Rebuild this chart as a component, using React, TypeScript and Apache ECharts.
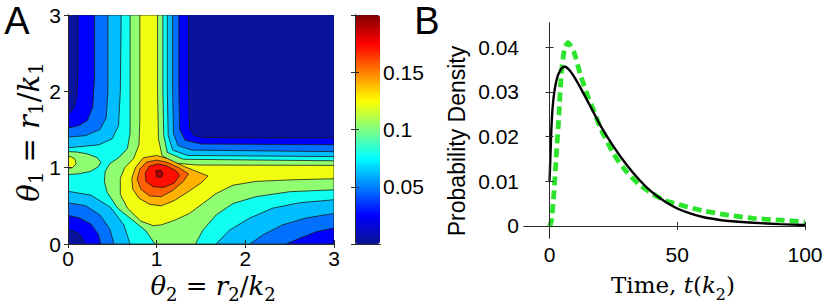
import React, { useEffect, useRef } from 'react';
import * as echarts from 'echarts';

// ---------- Panel A: tick labels ----------
const thetaTicks = [0, 1, 2, 3];
const colorbarTicks = [0.05, 0.1, 0.15];

// contour level values (estimated from the band colours against the colour bar)
const contourLevels = [0.003, 0.025, 0.047, 0.062, 0.078, 0.103, 0.122, 0.14, 0.156, 0.172, 0.192];

// superlevel-set outlines, [theta2, theta1]
const regionNavy = [[[0, 0], [3, 0], [3, 3], [0, 3]]];
const regionBlue = [[
  [0, 0.187], [0, 1.71], [0.03, 1.73], [0.07, 1.8], [0.1, 1.95], [0.11, 2.2], [0.11, 3],
  [1.36, 3], [1.36, 2.0], [1.37, 1.52], [1.42, 1.42], [1.55, 1.395], [2.0, 1.39], [3, 1.39],
  [3, 0], [0.19, 0], [0.13, 0.13], [0.06, 0.17]
]];
const regionMidBlue = [[
  [0, 0.376], [0, 1.52], [0.12, 1.55], [0.22, 1.62], [0.28, 1.8], [0.3, 2.2], [0.3, 3],
  [1.25, 3], [1.25, 2.0], [1.26, 1.5], [1.32, 1.36], [1.5, 1.31], [3, 1.3],
  [3, 0.21], [2.8, 0.16], [2.61, 0.075], [2.46, 0], [0.37, 0], [0.34, 0.13], [0.26, 0.26], [0.13, 0.34]
]];
const regionSky = [[
  [0, 0.54], [0, 1.4], [0.2, 1.42], [0.36, 1.5], [0.43, 1.65], [0.45, 2.0], [0.45, 3],
  [1.18, 3], [1.18, 2.0], [1.19, 1.45], [1.24, 1.29], [1.4, 1.23], [3, 1.21],
  [3, 0.4], [2.68, 0.34], [2.42, 0.25], [2.2, 0.12], [2.05, 0], [0.52, 0], [0.47, 0.2], [0.36, 0.38], [0.2, 0.5]
]];
const regionCyan = [[
  [0, 0.69], [0, 1.26], [0.35, 1.3], [0.5, 1.38], [0.57, 1.55], [0.59, 2.0], [0.6, 3],
  [1.12, 3], [1.12, 2.0], [1.13, 1.42], [1.18, 1.23], [1.35, 1.16], [3, 1.145],
  [3, 0.58], [2.61, 0.54], [2.31, 0.47], [2.05, 0.34], [1.82, 0.18], [1.67, 0],
  [0.7, 0], [0.63, 0.25], [0.48, 0.48], [0.26, 0.64]
]];
const regionLightGreen = [
  [
    [0.7, 3], [1.07, 3], [1.07, 2.0], [1.08, 1.42], [1.12, 1.2], [1.3, 1.11], [3, 1.09],
    [3, 0.71], [2.5, 0.685], [2.12, 0.62], [1.86, 0.53], [1.67, 0.38], [1.52, 0.18], [1.45, 0.03], [1.44, 0],
    [0.98, 0], [0.88, 0.17], [0.72, 0.32], [0.56, 0.47], [0.44, 0.68], [0.41, 0.82], [0.42, 0.95],
    [0.47, 1.05], [0.58, 1.14], [0.67, 1.25], [0.7, 1.45], [0.7, 2.0]
  ],
  [
    [0, 0.91], [0.12, 0.92], [0.25, 0.95], [0.34, 1.01], [0.37, 1.07], [0.33, 1.13], [0.22, 1.18], [0.1, 1.205], [0, 1.21]
  ]
];
const regionYellow = [
  [
    [0.81, 3], [1.01, 3], [1.01, 2.0], [1.02, 1.38], [1.06, 1.16], [1.2, 1.06], [1.45, 1.035], [3, 1.03],
    [3, 0.855], [2.5, 0.84], [2.12, 0.82], [1.86, 0.77], [1.67, 0.66], [1.52, 0.53], [1.37, 0.4],
    [1.2, 0.31], [1.05, 0.25], [0.96, 0.24], [0.82, 0.3], [0.67, 0.47], [0.59, 0.65], [0.59, 0.86],
    [0.64, 1.0], [0.74, 1.12], [0.8, 1.3], [0.81, 1.6], [0.81, 2.2]
  ],
  [
    [0, 0.99], [0.05, 1.0], [0.09, 1.05], [0.08, 1.11], [0.04, 1.14], [0, 1.15]
  ]
];
const regionOrange = [[
  [0.85, 1.13], [1.0, 1.16], [1.12, 1.12], [1.3, 1.02], [1.45, 0.95], [1.58, 0.89], [1.5, 0.8],
  [1.35, 0.68], [1.2, 0.57], [1.05, 0.5], [0.92, 0.52], [0.8, 0.6], [0.73, 0.72], [0.72, 0.86], [0.76, 1.0]
]];
const regionOrangeRed = [[
  [0.88, 1.07], [1.0, 1.1], [1.12, 1.07], [1.25, 1.0], [1.36, 0.92], [1.3, 0.82], [1.18, 0.7],
  [1.05, 0.62], [0.92, 0.63], [0.82, 0.72], [0.78, 0.85], [0.81, 0.98]
]];
const regionRed = [[
  [0.92, 1.02], [1.02, 1.05], [1.12, 1.02], [1.22, 0.96], [1.26, 0.9], [1.2, 0.8], [1.08, 0.74],
  [0.96, 0.75], [0.88, 0.82], [0.87, 0.93]
]];
const regionDarkRed = [[
  [0.99, 0.96], [1.05, 0.97], [1.07, 0.92], [1.05, 0.87], [1.0, 0.88]
]];

const contourRegions = [
  regionNavy, regionBlue, regionMidBlue, regionSky, regionCyan, regionLightGreen,
  regionYellow, regionOrange, regionOrangeRed, regionRed, regionDarkRed
];

const jetStops = ['#0b1690', '#0000ff', '#0080ff', '#00ffff', '#80ff80', '#ffff00', '#ff8000', '#ff0000', '#800000'];

// ---------- Panel B ----------
const timeTicks = [0, 50, 100];
const densityTicks = [0, 0.01, 0.02, 0.03, 0.04];

const solidTime = [0, 0.4, 0.7, 1.2, 2, 3, 4, 5, 6, 8, 10, 12.5, 15, 17.5, 20, 25, 30, 35, 40, 45, 50, 55, 60, 65, 70, 80, 90, 100];
const solidDensity = [0.0101, 0.0165, 0.0215, 0.0265, 0.0305, 0.0332, 0.0346, 0.0354, 0.0356, 0.0347, 0.033, 0.0305, 0.0278, 0.0251, 0.0224, 0.0178, 0.0138, 0.0104, 0.0076, 0.0055, 0.0039, 0.0028, 0.002, 0.0015, 0.0011, 0.0007, 0.0004, 0.0002];

const dashedTime = [0, 0.8, 1.7, 2.7, 3.7, 4.6, 5.9, 7.2, 9.5, 12, 15, 17.5, 20, 25, 30, 35, 40, 45, 50, 55, 60, 70, 80, 90, 100];
const dashedDensity = [-0.0002, 0.0013, 0.0073, 0.0162, 0.025, 0.034, 0.0398, 0.041, 0.039, 0.034, 0.029, 0.0255, 0.0218, 0.0162, 0.0122, 0.0093, 0.0073, 0.0057, 0.0049, 0.0041, 0.0034, 0.0024, 0.0017, 0.0013, 0.0009];

const SANS = 'Liberation Sans';
const SERIF = 'DejaVu Serif';
const AX = '#2b2b2b';

function buildOption(): any {
  const contourData: any[] = [];
  contourRegions.forEach((polys, li) => {
    polys.forEach((_p, pi) => contourData.push({ value: [contourLevels[li], li, pi] }));
  });

  const tickStyle = { show: true, inside: true, length: 4, lineStyle: { color: AX } };
  const lineStyle = { show: true, lineStyle: { color: AX, width: 1 } };
  const lbl = { color: '#000', fontSize: 21, fontFamily: SANS };

  const math = (fs: number, sub: number) => ({
    i: { fontFamily: SERIF, fontStyle: 'italic', fontSize: fs, lineHeight: 34, color: '#000' },
    r: { fontFamily: SERIF, fontSize: fs, lineHeight: 34, color: '#000' },
    s: { fontFamily: SERIF, fontSize: sub, lineHeight: 16, verticalAlign: 'bottom', color: '#000' }
  });

  return {
    animation: false,
    backgroundColor: '#fff',
    grid: [
      { left: 68, top: 15, width: 266, height: 229 },
      { left: 355, top: 15, width: 25, height: 229 },
      { left: 524, top: 23, width: 281, height: 215 }
    ],
    xAxis: [
      { gridIndex: 0, type: 'value', min: 0, max: 3, interval: 1, position: 'bottom', z: 5,
        axisLine: lineStyle, axisTick: tickStyle, splitLine: { show: false },
        axisLabel: { ...lbl, margin: 4 } },
      { gridIndex: 0, type: 'value', min: 0, max: 3, interval: 1, position: 'top', z: 5,
        axisLine: lineStyle, axisTick: tickStyle, splitLine: { show: false }, axisLabel: { show: false } },
      { gridIndex: 1, type: 'value', min: 0, max: 1, position: 'bottom', z: 5,
        axisLine: lineStyle, axisTick: { show: false }, splitLine: { show: false }, axisLabel: { show: false } },
      { gridIndex: 1, type: 'value', min: 0, max: 1, position: 'top', z: 5,
        axisLine: lineStyle, axisTick: { show: false }, splitLine: { show: false }, axisLabel: { show: false } },
      { gridIndex: 2, type: 'value', min: -10, max: 100, position: 'bottom', z: 5,
        axisLine: lineStyle, axisTick: { ...tickStyle, customValues: timeTicks }, splitLine: { show: false },
        axisLabel: { ...lbl, margin: 6, customValues: timeTicks } },
      { gridIndex: 2, type: 'value', min: -10, max: 100, position: 'top', z: 5,
        axisLine: lineStyle, axisTick: { ...tickStyle, customValues: timeTicks }, splitLine: { show: false },
        axisLabel: { show: false } }
    ],
    yAxis: [
      { gridIndex: 0, type: 'value', min: 0, max: 3, interval: 1, position: 'left', z: 5,
        axisLine: lineStyle, axisTick: tickStyle, splitLine: { show: false },
        axisLabel: { ...lbl, margin: 7 } },
      { gridIndex: 0, type: 'value', min: 0, max: 3, interval: 1, position: 'right', z: 5,
        axisLine: lineStyle, axisTick: tickStyle, splitLine: { show: false }, axisLabel: { show: false } },
      { gridIndex: 1, type: 'value', min: 0, max: 0.2, interval: 0.05, position: 'left', z: 5,
        axisLine: lineStyle, axisTick: tickStyle, splitLine: { show: false }, axisLabel: { show: false } },
      { gridIndex: 1, type: 'value', min: 0, max: 0.2, interval: 0.05, position: 'right', z: 5,
        axisLine: lineStyle, axisTick: tickStyle, splitLine: { show: false },
        axisLabel: { ...lbl, margin: 3,
          formatter: (v: number) => (colorbarTicks.some((t) => Math.abs(t - v) < 1e-9) ? String(+v.toFixed(2)) : '') } },
      { gridIndex: 2, type: 'value', min: -0.0027, max: 0.0454, position: 'left', z: 5,
        axisLine: lineStyle, axisTick: { ...tickStyle, customValues: densityTicks }, splitLine: { show: false },
        axisLabel: { ...lbl, margin: 5, customValues: densityTicks, formatter: (v: number) => String(+v.toFixed(3)) } },
      { gridIndex: 2, type: 'value', min: -0.0027, max: 0.0454, position: 'right', z: 5,
        axisLine: lineStyle, axisTick: { ...tickStyle, customValues: densityTicks }, splitLine: { show: false },
        axisLabel: { show: false } }
    ],
    visualMap: {
      type: 'continuous',
      min: 0,
      max: 0.2,
      dimension: 0,
      seriesIndex: 0,
      calculable: false,
      orient: 'vertical',
      left: 355,
      top: 15,
      padding: 0,
      itemWidth: 25,
      itemHeight: 229,
      hoverLink: false,
      inRange: { color: jetStops }
    },
    series: [
      {
        type: 'custom',
        coordinateSystem: 'cartesian2d',
        xAxisIndex: 0,
        yAxisIndex: 0,
        silent: true,
        renderItem: (params: any, api: any) => {
          const li = api.value(1) as number;
          const pi = api.value(2) as number;
          const points = contourRegions[li][pi].map((p) => api.coord(p));
          const cs = params.coordSys;
          return {
            type: 'polygon',
            shape: { points },
            clipPath: { type: 'rect', shape: { x: cs.x, y: cs.y, width: cs.width, height: cs.height } },
            style: { fill: api.visual('color'), stroke: li === 0 ? null : '#1c1c1c', lineWidth: 0.8 }
          };
        },
        data: contourData
      },
      {
        type: 'line',
        xAxisIndex: 4,
        yAxisIndex: 4,
        data: dashedTime.map((t, i) => [t, dashedDensity[i]]),
        showSymbol: false,
        smooth: 0.2,
        lineStyle: { color: '#2de42d', width: 4.8, type: [9, 5], cap: 'butt' },
        z: 3
      },
      {
        type: 'line',
        xAxisIndex: 4,
        yAxisIndex: 4,
        data: solidTime.map((t, i) => [t, solidDensity[i]]),
        showSymbol: false,
        smooth: 0.2,
        lineStyle: { color: '#000', width: 2.4 },
        z: 4
      }
    ],
    graphic: [
      { type: 'text', x: 17, y: 21, style: { text: 'A', fontSize: 38, fontFamily: SANS, fill: '#000', textAlign: 'center', textVerticalAlign: 'middle' } },
      { type: 'text', x: 427, y: 21, style: { text: 'B', fontSize: 38, fontFamily: SANS, fill: '#000', textAlign: 'center', textVerticalAlign: 'middle' } },
      { type: 'text', x: 457, y: 141, rotation: Math.PI / 2,
        style: { text: 'Probability Density', fontSize: 23, fontFamily: SANS, fill: '#000', textAlign: 'center', textVerticalAlign: 'middle' } },
      { type: 'text', x: 673, y: 285,
        style: { text: '{r|Time, }{i|t}{r|(}{i|k}{s|2}{r|)}', rich: math(23, 16), textAlign: 'center', textVerticalAlign: 'middle' } },
      { type: 'text', x: 213, y: 286,
        style: { text: '{i|θ}{s|2}{r| = }{i|r}{s|2}{r|/}{i|k}{s|2}', rich: math(26, 18), textAlign: 'center', textVerticalAlign: 'middle' } },
      { type: 'text', x: 29, y: 132, rotation: Math.PI / 2,
        style: { text: '{i|θ}{s|1}{r| = }{i|r}{s|1}{r|/}{i|k}{s|1}', rich: math(29, 20), textAlign: 'center', textVerticalAlign: 'middle' } }
    ]
  };
}

export default function App() {
  const ref = useRef<HTMLDivElement>(null);
  useEffect(() => {
    if (!ref.current) return;
    const chart = echarts.init(ref.current, null, { renderer: 'svg' });
    chart.setOption(buildOption());
    return () => chart.dispose();
  }, []);
  return <div ref={ref} style={{ position: 'absolute', left: 0, top: 0, width: 830, height: 307 }} />;
}
